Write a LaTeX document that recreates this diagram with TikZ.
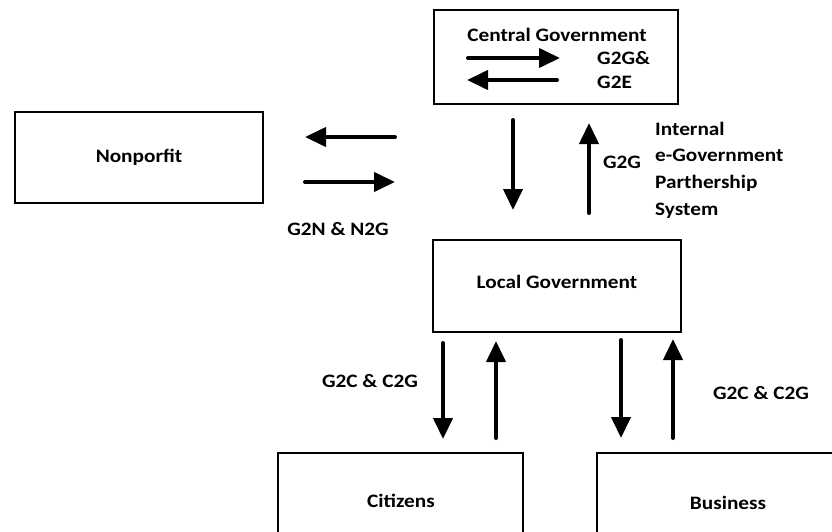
\documentclass[tikz,border=0pt]{standalone}
\usepackage{fontspec}
\setmainfont{Carlito}[FakeStretch=1.12]
\usetikzlibrary{arrows.meta}
\begin{document}
\begin{tikzpicture}[x=1pt,y=-1pt,
  box/.style={draw, line width=2.6pt, inner sep=0pt},
  lbl/.style={font=\fontsize{19}{22}\selectfont\bfseries, inner sep=0pt},
  flow/.style={line width=4pt, line cap=round, -{Triangle[length=21pt,width=19pt]}}]
\useasboundingbox (0,0) rectangle (832,531);
\clip (0,0) rectangle (832,531);

% boxes
\node[box, minimum width=244pt, minimum height=94pt] (cg) at (556,57) {};
\node[box, minimum width=248pt, minimum height=91pt, lbl] (np) at (139,157.5) {Nonporfit};
\node[box, minimum width=248pt, minimum height=92pt] (lg) at (557,286) {};
\node[box, minimum width=245pt, minimum height=96pt] (cz) at (400.5,501) {};
\node[box, minimum width=262pt, minimum height=100pt] (bs) at (728,503) {};

% box titles
\node[lbl] (cgt) at (557,35) {Central Government};
\node[lbl] (lgt) at (557,282) {Local Government};
\node[lbl] (czt) at (401,501) {Citizens};
\node[lbl] (bst) at (728,503) {Business};

% arrow end points
\coordinate (c1a) at (468,58);  \coordinate (c1b) at (560,58);
\coordinate (c2a) at (557,80);  \coordinate (c2b) at (467,80);
\coordinate (n1a) at (395,137); \coordinate (n1b) at (305,137);
\coordinate (n2a) at (305,182); \coordinate (n2b) at (395,182);
\coordinate (v1a) at (513,120); \coordinate (v1b) at (513,210);
\coordinate (v2a) at (589,213); \coordinate (v2b) at (589,123);
\coordinate (b1a) at (443,343); \coordinate (b1b) at (443,439);
\coordinate (b2a) at (496,438); \coordinate (b2b) at (496,341);
\coordinate (b3a) at (621,340); \coordinate (b3b) at (621,438);
\coordinate (b4a) at (673,438); \coordinate (b4b) at (673,339);

% flows
\draw[flow] (c1a) -- (c1b);
\draw[flow] (c2a) -- (c2b);
\draw[flow] (n1a) -- (n1b);
\draw[flow] (n2a) -- (n2b);
\draw[flow] (v1a) -- (v1b);
\draw[flow] (v2a) -- (v2b);
\draw[flow] (b1a) -- (b1b);
\draw[flow] (b2a) -- (b2b);
\draw[flow] (b3a) -- (b3b);
\draw[flow] (b4a) -- (b4b);

% flow labels
\node[lbl, anchor=west] (g2g1) at (597,58) {G2G\&};
\node[lbl, anchor=west] (g2e) at (597,82) {G2E};
\node[lbl] (g2n) at (338,229) {G2N \& N2G};
\node[lbl] (g2g) at (622,162) {G2G};
\node[lbl, anchor=west, align=left, font=\fontsize{19}{26.7}\selectfont\bfseries] (ieg) at (655,170)
  {Internal\\e-Government\\Parthership\\System};
\node[lbl] (g2c1) at (370,381) {G2C \& C2G};
\node[lbl] (g2c2) at (761,393) {G2C \& C2G};
\end{tikzpicture}
\end{document}
